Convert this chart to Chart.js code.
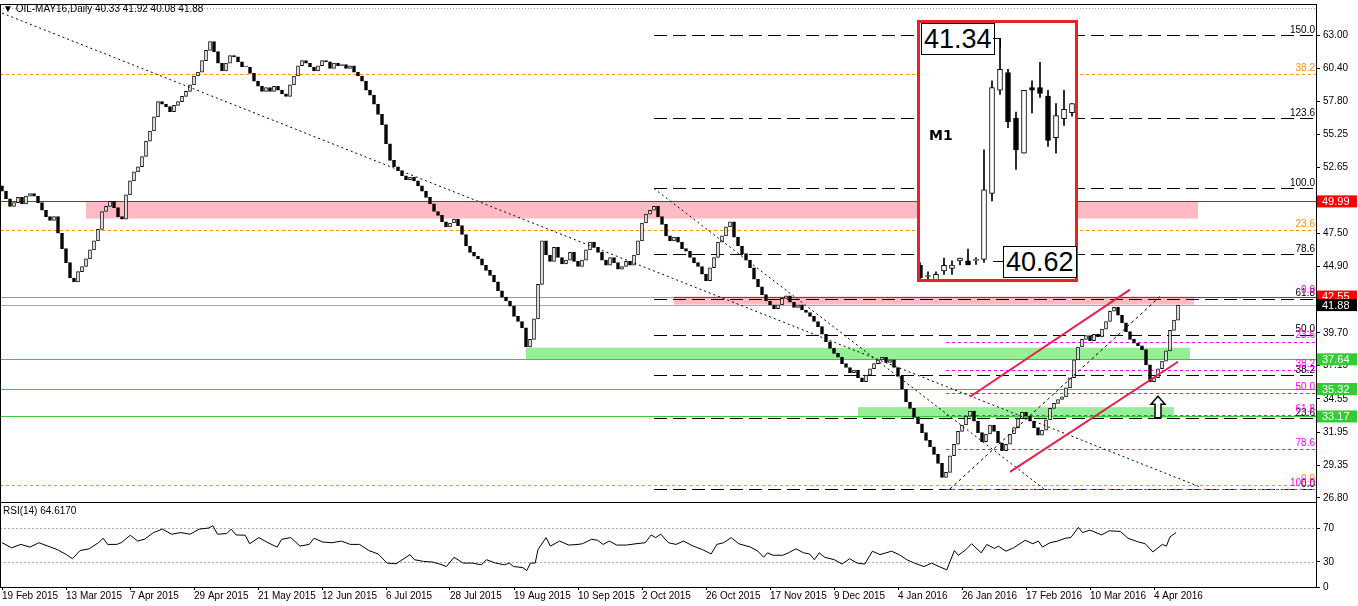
<!DOCTYPE html>
<html><head><meta charset="utf-8">
<script src="https://cdn.jsdelivr.net/npm/chart.js@4.4.1/dist/chart.umd.min.js"></script>
<style>
html,body{margin:0;padding:0;background:#fff;width:1358px;height:606px;overflow:hidden;font-family:"Liberation Sans",Arial,sans-serif}
#main{position:absolute;left:0;top:-5px}
#rsi{position:absolute;left:0;top:493px}
#insetBg{position:absolute;left:917px;top:20px;width:161px;height:262px;background:#fff}
#inset{position:absolute;left:916px;top:23px}
#insetFrame{position:absolute;left:917px;top:20px;width:161px;height:262px;border:3px solid #e8202a;box-sizing:border-box}
.pbox{position:absolute;background:#fff;border:1px solid #000;font-size:27px;line-height:30px;padding:0 2px;color:#000}
.txt{position:absolute;font-size:10px;color:#000;white-space:nowrap}
</style></head>
<body>
<canvas id="main" width="1358" height="516"></canvas>
<canvas id="rsi" width="1358" height="109"></canvas>
<div id="insetBg"></div>
<canvas id="inset" width="160" height="256"></canvas>
<div id="insetFrame"></div>
<div class="pbox" style="left:921px;top:23px;">41.34</div>
<div style="position:absolute;left:993px;top:38px;width:8px;height:1px;background:#000"></div>
<div style="position:absolute;left:1000px;top:38px;width:1px;height:10px;background:#000"></div>
<div class="pbox" style="left:1003px;top:246px;">40.62</div>
<div style="position:absolute;left:993px;top:261px;width:10px;height:1px;background:#000"></div>
<div style="position:absolute;left:929px;top:127px;font:bold 14px 'DejaVu Sans',sans-serif">M1</div>
<div class="txt" style="left:3px;top:3px;">▼ OIL-MAY16,Daily  40.33 41.92 40.08 41.88</div>
<div class="txt" style="left:3px;top:505px;">RSI(14) 64.6170</div>
<script>
// ---------- DATA ----------
const closes = [50.8,50.2,49.6,49.9,50.3,49.8,50.4,50.6,50.4,49.9,49.3,48.8,
48.5,48.8,47.5,46.3,45.2,44.0,43.7,44.5,
44.9,45.5,46.2,46.9,47.8,49.2,49.6,50.0,
49.5,48.8,48.6,50.5,51.6,52.3,52.7,53.5,
54.7,55.5,56.6,57.8,57.6,57.4,57.0,57.5,
57.8,58.2,58.6,59.1,59.8,60.1,61.0,61.8,
62.5,
61.7,60.8,60.2,60.8,61.4,61.3,60.9,60.5,60.5,60.0,59.4,59.0,58.6,58.9,58.6,59.0,58.7,58.4,58.2,59.1,59.8,60.6,61.0,60.8,60.5,60.2,60.6,61.0,60.9,60.4,60.8,60.6,60.7,60.4,60.6,60.1,59.8,59.4,58.7,58.3,57.6,56.8,
56.0,54.5,53.2,52.7,52.4,52.0,51.7,51.9,51.6,51.2,50.8,50.3,49.8,49.2,48.9,48.4,48.0,48.3,48.6,48.1,47.4,46.5,46.0,45.7,45.5,45.0,44.6,44.2,43.7,43.0,42.5,42.2,41.8,41.0,40.6,40.1,
38.6,39.2,40.8,43.5,46.9,
45.8,45.3,46.4,45.6,45.1,45.4,46.0,45.3,44.9,45.4,46.2,46.8,46.4,46.0,45.4,45.0,45.6,45.2,44.7,44.9,45.3,45.0,45.8,46.9,48.3,
49.0,49.3,
49.6,48.8,48.2,47.3,46.9,47.2,46.8,46.3,46.1,45.6,45.2,44.9,44.3,43.8,44.8,45.6,46.8,47.3,48.0,48.4,
47.2,46.5,45.9,45.4,44.8,43.9,43.3,42.7,42.2,41.9,41.6,41.9,42.4,42.6,42.1,41.7,41.9,41.5,41.3,41.0,
40.6,40.2,39.6,39.0,38.5,38.1,37.8,37.3,37.0,36.6,36.8,36.2,35.9,36.4,36.9,37.3,37.6,37.8,37.4,37.6,
37.0,36.3,35.3,34.3,33.8,33.1,32.6,31.9,31.3,30.8,30.2,29.5,28.4,28.8,30.1,31.0,32.0,32.5,33.2,33.6,
32.8,31.9,31.2,31.8,32.5,32.0,31.1,30.5,31.0,31.8,32.3,33.0,33.5,33.2,32.8,32.3,31.7,32.1,32.9,33.8,
34.2,34.5,34.7,35.4,36.2,37.6,38.6,39.2,39.5,39.1,39.6,39.4,40.0,40.6,41.4,41.7,41.1,40.5,39.8,39.2,
38.9,38.7,38.4,37.2,35.9,36.2,36.9,37.5,38.3,39.9,40.7,41.88];
const firstOpen = 51.2;
// RSI(14): bar index / value
const rsiIdx = [0,2.4,4.7,7,9.2,11.5,13.8,16.1,17.6,19.5,21.8,24.1,25.3,26.4,28.7,29.8,32.1,33.9,35.6,37.9,40.1,42.4,44.7,47,49.3,51.6,52.7,53.9,56.2,57.3,58.5,60.8,61.9,64.2,66.5,68.8,69.9,72.2,74.5,76.8,78,80.2,82.5,84.8,87.1,89.4,91.7,94,96.3,98.5,99.7,102,103.1,105.4,107.7,110,111.1,113,115.3,117.6,119.9,121.1,123.4,125.6,126.8,127.9,130.2,131.2,132.1,133.3,134,136,137.1,139.4,141.7,144,145.1,
 147.4,148.9,150.3,151.8,153.7,156.1,158.5,160.8,162.3,163.4,164.7,166.6,168.5,170.4,172.8,175.1,177.3,178.7,180.4,182.3,184.2,187.1,189,190.4,191.4,192.8,195.2,196.6,198.5,200.4,201.9,203.1,204.3,205.7,208.1,210,211.9,213.8,215.7,217.6,219.5,221,222.4,224.3,226.2,228.1,230.5,232.4,234.3,236.2,238.1,239.1,241,242.4,244.8,246.2,248.1,249.1,251,252.9,255.8,257.7,259.1,260.1,262,263.9,265.8,267.2,269.1,270.1,272,274.9,276.8,279.6,281.5,283.9,285.8,287.7,290.1,291.1,292,293.5];
const rsiVal = [52.6,46.6,50.6,47.4,52.6,48.6,44.5,38.5,33.6,43.3,45.4,52.6,57.9,50.6,50.6,52.6,61.5,54.6,56.7,64.7,68.8,62.7,64.7,62.7,68.8,70,72.8,62.7,63.5,68.8,61.9,61.5,51.4,58.7,52.6,47.4,56.7,58.7,48.6,50.6,57.9,53.4,52.6,54.6,50.6,50.6,43.3,39.3,28.4,27.6,31.2,38.5,32.4,30.4,29.6,26.4,24.3,35.3,28.4,28.4,26.4,32.4,28.4,26.4,28.4,24.3,23.1,19.5,28.4,28.4,44.5,58.7,48.6,54.6,49.8,50.6,51.4,
 56.7,55.5,50.6,54.6,49.8,49.8,51.4,52.6,61.9,58.7,62.7,52.6,50.6,54.6,48.6,44.5,39.3,50.6,52.6,58.7,51.4,47.4,42.5,35.3,40.6,37.7,37.7,40.6,45.4,40.6,39.3,32.4,40.6,35.3,32.4,27.2,33.6,28.4,27.2,42.5,38.5,40.6,42.5,38.5,32.4,28.4,24.3,28.4,24.3,20.3,43.3,37.7,44.5,51.4,40.6,50.6,45.8,48.6,42.5,46.6,55.5,51.4,54.6,47.4,52.6,54.6,57.9,58.7,70.8,64.7,67.6,61.9,66.8,66.0,57.9,53.8,51.4,41.7,50.6,48.6,59.5,64.6];
const dateLabels = ["19 Feb 2015","13 Mar 2015","7 Apr 2015","29 Apr 2015","21 May 2015","12 Jun 2015","6 Jul 2015","28 Jul 2015","19 Aug 2015","10 Sep 2015","2 Oct 2015","26 Oct 2015","17 Nov 2015","9 Dec 2015","4 Jan 2016","26 Jan 2016","17 Feb 2016","10 Mar 2016","4 Apr 2016"];
const priceTicks = [63.00,60.40,57.80,55.25,52.65,47.50,44.90,39.70,37.15,34.55,31.95,29.35,26.80];
const rsiTicks = [70,30,0];
const priceBoxes = [[49.99,"#ff0000"],[42.55,"#ff0000"],[41.88,"#000000"],[37.64,"#33cc33"],[35.32,"#33cc33"],[33.17,"#33cc33"]];
const zones = [[21,299,48.65,49.99,"rgba(255,182,193,0.95)"],[168,298,41.92,42.55,"rgba(255,182,193,0.95)"],
 [131,297,37.60,38.55,"rgba(144,238,144,0.95)"],[214,293,33.06,33.90,"rgba(144,238,144,0.95)"]];
const hLines = [[49.99,"#ff0000"],[42.55,"#999999"],[41.88,"#aaaaaa"],[37.64,"#33cc33"],[35.32,"#33cc33"],[33.17,"#33cc33"]];
const fibBlack = [[63.0,"150.0"],[56.5,"123.6"],[51.0,"100.0"],[45.84,"78.6"],[42.39,"61.8"],[39.57,"50.0"],[36.43,"38.2"],[33.06,"23.6"],[27.5,"0.0"]];
const fibOrange = [[59.94,"38.2"],[47.72,"23.6"],[27.81,"0.0"]];
const fibMagenta = [[42.55,"0.0"],[39.02,"23.6"],[36.82,"38.2"],[35.02,"50.0"],[33.30,"61.8"],[30.63,"78.6"],[27.5,"100.0"]];
const trendLines = [[0,64.72,299.5,27.66,"#000",1,[2,3]],[163,51.0,260.5,27.5,"#000",1,[2,3]],[237,27.5,289.5,42.55,"#000",1,[3,3]],
 [242,34.71,282,43.09,"#e8204a",2,[]],[252,28.83,294,37.45,"#e8204a",2,[]]];
const nCats = 329;
const mO=[40.611,40.575,40.562,40.593,40.601,40.625,40.625,40.627,40.630,40.842,41.173,41.230,41.084,40.971,41.182,41.182,41.154,41.021,41.082,41.101];
const mC=[40.571,40.575,40.582,40.611,40.612,40.634,40.612,40.627,40.853,41.182,41.240,41.071,40.982,41.173,41.173,41.163,41.012,41.092,41.112,41.130];
const mH=[40.62,40.59,40.59,40.634,40.625,40.634,40.663,40.636,40.982,41.203,41.340,41.240,41.103,41.173,41.203,41.263,41.173,41.130,41.173,41.130];
const mL=[40.56,40.56,40.555,40.582,40.582,40.612,40.612,40.614,40.620,40.818,41.160,41.053,40.919,40.971,41.100,41.150,40.993,40.971,41.060,41.090];

// ---------- BUILD ----------
const opens = closes.map((c,i)=> i===0 ? firstOpen : closes[i-1]);
const labels = Array.from({length:nCats},(_,i)=>i);
const bodies = closes.map((c,i)=>[opens[i],c]);
const bodyFill = closes.map((c,i)=> c>=opens[i] ? "#fff" : "#000");
const rsiPts = rsiIdx.map((x,i)=>({x,y:rsiVal[i]}));

const FONT={family:"Liberation Sans",size:10};
function fitY(s){s.width=42;}
const mainPlugin={id:'ov',
 beforeDatasetsDraw(ch){const c=ch.ctx,a=ch.chartArea,x=ch.scales.x,y=ch.scales.y;c.save();
  zones.forEach(z=>{c.fillStyle=z[4];const x1=x.getPixelForValue(z[0]),x2=x.getPixelForValue(z[1]);
   c.fillRect(x1,y.getPixelForValue(z[3]),x2-x1,y.getPixelForValue(z[2])-y.getPixelForValue(z[3]));});
  c.setLineDash([1,2]);c.strokeStyle="#999";c.lineWidth=1;const yt=Math.round(y.getPixelForValue(65.1))+.5;
  c.beginPath();c.moveTo(a.left,yt);c.lineTo(a.right,yt);c.stroke();
  c.setLineDash([]);
  hLines.forEach(h=>{const yy=Math.round(y.getPixelForValue(h[0]))+.5;c.strokeStyle=h[1];c.beginPath();c.moveTo(a.left,yy);c.lineTo(a.right,yy);c.stroke();});
  c.strokeStyle="#ff0000";const yr=Math.round(y.getPixelForValue(42.55))+.5;c.beginPath();c.moveTo(x.getPixelForValue(168),yr);c.lineTo(a.right,yr);c.stroke();
  const x0=x.getPixelForValue(163);
  c.setLineDash([13,6]);c.strokeStyle="#000";
  fibBlack.forEach(f=>{const yy=Math.round(y.getPixelForValue(f[0]))+.5;c.beginPath();c.moveTo(x0,yy);c.lineTo(a.right,yy);c.stroke();});
  c.setLineDash([3,3]);c.strokeStyle="#ff8c00";
  fibOrange.forEach(f=>{const yy=Math.round(y.getPixelForValue(f[0]))+.5;c.beginPath();c.moveTo(a.left,yy);c.lineTo(a.right,yy);c.stroke();});
  c.strokeStyle="#ff00ff";const xm=x.getPixelForValue(236);
  fibMagenta.forEach(f=>{if(f[1]==="0.0")return;const yy=Math.round(y.getPixelForValue(f[0]))+.5;c.beginPath();c.moveTo(xm,yy);c.lineTo(a.right,yy);c.stroke();});
  c.setLineDash([]);c.restore();},
 afterDatasetsDraw(ch){const c=ch.ctx,a=ch.chartArea,x=ch.scales.x,y=ch.scales.y;c.save();
  trendLines.forEach(t=>{c.strokeStyle=t[4];c.lineWidth=t[5];c.setLineDash(t[6]);c.beginPath();
   c.moveTo(x.getPixelForValue(t[0]),y.getPixelForValue(t[1]));c.lineTo(x.getPixelForValue(t[2]),y.getPixelForValue(t[3]));c.stroke();});
  c.setLineDash([]);c.lineWidth=1;
  c.font="10px 'Liberation Sans'";c.textAlign="right";c.textBaseline="bottom";const tx=a.right-1;
  c.fillStyle="#000";fibBlack.forEach(f=>c.fillText(f[1],tx,y.getPixelForValue(f[0])));
  c.fillStyle="#ff8c00";fibOrange.forEach(f=>c.fillText(f[1],tx,y.getPixelForValue(f[0])-1));
  c.fillStyle="#ff00ff";fibMagenta.forEach(f=>c.fillText(f[1],tx,y.getPixelForValue(f[0])-1));
  const ax=x.getPixelForValue(289),ay1=y.getPixelForValue(34.75),ay2=y.getPixelForValue(33.06);
  c.strokeStyle="#000";c.fillStyle="#fff";c.lineWidth=1.5;c.beginPath();
  c.moveTo(ax,ay1);c.lineTo(ax+7,ay1+8);c.lineTo(ax+3,ay1+8);c.lineTo(ax+3,ay2);c.lineTo(ax-3,ay2);c.lineTo(ax-3,ay1+8);c.lineTo(ax-7,ay1+8);c.closePath();c.fill();c.stroke();
  c.lineWidth=1;c.strokeStyle="#000";c.strokeRect(a.left+.5,a.top+.5,a.right-a.left,a.bottom-a.top);
  c.font="11px 'Liberation Sans'";c.textAlign="left";c.textBaseline="middle";
  priceBoxes.forEach(b=>{const yy=y.getPixelForValue(b[0]);c.fillStyle=b[1];c.fillRect(a.right+1,yy-6,40,12);c.fillStyle="#fff";c.fillText(b[0].toFixed(2),a.right+6,yy+.5);});
  c.restore();}};

new Chart(document.getElementById('main'),{type:'bar',
 data:{labels,datasets:[{data:bodies,backgroundColor:bodyFill,borderColor:"#000",borderWidth:1,borderSkipped:false,barThickness:3,minBarLength:1}]},
 options:{responsive:false,animation:false,events:[],layout:{padding:{top:3,bottom:1,left:0,right:0}},
  plugins:{legend:{display:false},tooltip:{enabled:false}},
  scales:{x:{display:false,offset:true},
   y:{position:'right',min:26.48,max:65.43,afterFit:fitY,afterBuildTicks(s){s.ticks=priceTicks.map(v=>({value:v}));},
    ticks:{font:FONT,color:"#000",padding:3,callback:v=>v.toFixed(2)},grid:{drawOnChartArea:false,tickLength:4,color:"#000"},border:{color:"#000"}}}},
 plugins:[mainPlugin]});

const rsiPlugin={id:'rov',beforeDatasetsDraw(ch){const c=ch.ctx,a=ch.chartArea,y=ch.scales.y;c.save();c.setLineDash([2,2]);c.strokeStyle="#aaa";
  [70,30].forEach(v=>{const yy=Math.round(y.getPixelForValue(v))+.5;c.beginPath();c.moveTo(a.left,yy);c.lineTo(a.right,yy);c.stroke();});c.restore();},
 afterDatasetsDraw(ch){const c=ch.ctx,a=ch.chartArea;c.save();c.strokeStyle="#000";c.strokeRect(a.left+.5,a.top+.5,a.right-a.left,a.bottom-a.top);c.restore();}};
new Chart(document.getElementById('rsi'),{type:'line',
 data:{datasets:[{data:rsiPts,borderColor:"#000",borderWidth:1,pointRadius:0,tension:0}]},
 options:{responsive:false,animation:false,events:[],layout:{padding:{top:1,left:0,right:0,bottom:0}},
  plugins:{legend:{display:false},tooltip:{enabled:false}},
  scales:{x:{type:'linear',min:-0.5,max:nCats-0.5,
    afterBuildTicks(s){s.ticks=dateLabels.map((_,i)=>({value:i*16}));},
    ticks:{font:FONT,color:"#000",maxRotation:0,autoSkip:false,align:'start',padding:0,
     callback:v=>dateLabels[v/16]},
    grid:{drawOnChartArea:false,tickLength:3,color:"#000"},border:{color:"#000"}},
   y:{position:'right',min:0,max:101,afterFit:fitY,afterBuildTicks(s){s.ticks=rsiTicks.map(v=>({value:v}));},
    ticks:{font:FONT,color:"#000",padding:3},grid:{drawOnChartArea:false,tickLength:4,color:"#000"},border:{color:"#000"}}}},
 plugins:[rsiPlugin]});

new Chart(document.getElementById('inset'),{type:'bar',
 data:{labels:mO.map((_,i)=>i),datasets:[
  {data:mO.map((o,i)=>[o,mC[i]]),backgroundColor:mO.map((o,i)=>mC[i]>=o?"#fff":"#000"),borderColor:"#000",borderWidth:1,borderSkipped:false,barThickness:5,minBarLength:1,grouped:false,order:0},
  {data:mO.map((o,i)=>[mL[i],mH[i]]),backgroundColor:"#000",barThickness:1,grouped:false,order:1}]},
 options:{responsive:false,animation:false,events:[],layout:{padding:0},plugins:{legend:{display:false},tooltip:{enabled:false}},
  scales:{x:{display:false,offset:true},y:{display:false,min:40.567,max:41.389}}}});
</script>
</body></html>
